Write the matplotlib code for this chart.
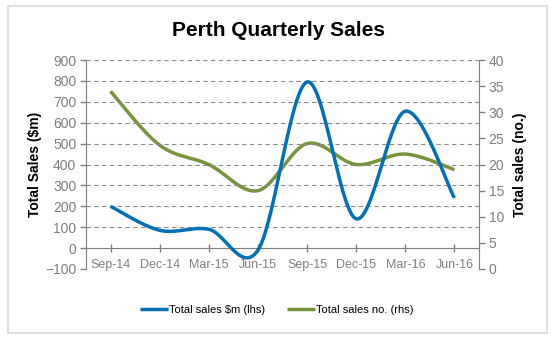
import numpy as np
import matplotlib.pyplot as plt
from matplotlib.patches import Rectangle

plt.rcParams['font.family'] = ['Liberation Sans', 'DejaVu Sans']

quarters = ['Sep-14', 'Dec-14', 'Mar-15', 'Jun-15', 'Sep-15', 'Dec-15', 'Mar-16', 'Jun-16']
sales_m = [200, 85, 90, -10, 795, 140, 655, 240]      # $m, left axis
sales_no = [34, 23.7, 20, 15, 24, 20, 22, 19]         # no., right axis

blue = '#0070b8'
green = '#77933c'
grey = '#7f7f7f'


def smooth(x, y, n=30):
    # Excel style smoothed line: cardinal bezier through each point
    x = np.asarray(x, float)
    y = np.asarray(y, float)
    px = np.concatenate([[x[0]], x, [x[-1]]])
    py = np.concatenate([[y[0]], y, [y[-1]]])
    xs, ys = [], []
    t = np.linspace(0, 1, n)
    for i in range(1, len(x)):
        p0 = np.array([px[i], py[i]])
        p3 = np.array([px[i + 1], py[i + 1]])
        p1 = p0 + (p3 - np.array([px[i - 1], py[i - 1]])) / 6
        p2 = p3 - (np.array([px[i + 2], py[i + 2]]) - p0) / 6
        b = ((1 - t) ** 3)[:, None] * p0 + (3 * (1 - t) ** 2 * t)[:, None] * p1 \
            + (3 * (1 - t) * t ** 2)[:, None] * p2 + (t ** 3)[:, None] * p3
        xs.append(b[:, 0])
        ys.append(b[:, 1])
    return np.concatenate(xs), np.concatenate(ys)


fig = plt.figure(figsize=(5.56, 3.39), dpi=100)
fig.patches.append(Rectangle((8 / 556, 6 / 339), 539 / 556, 327 / 339, transform=fig.transFigure,
                             fill=False, edgecolor='#d9d9d9', lw=1.2))

ax = fig.add_axes([86 / 556, 70 / 339, 393 / 556, 209 / 339])
ax2 = ax.twinx()

x = np.arange(len(quarters))
ax.set_xlim(-0.5, len(quarters) - 0.5)
ax.set_ylim(-100, 900)
ax2.set_ylim(0, 40)

for v in range(100, 1000, 100):
    ax.axhline(v, color='#8c8c8c', lw=0.8, ls=(0, (4, 3)), zorder=0)

sx, sy = smooth(x, sales_m)
l1, = ax.plot(sx, sy, color=blue, lw=2.5, solid_capstyle='butt', label='Total sales $m (lhs)', zorder=3)
gx, gy = smooth(x, sales_no)
l2, = ax2.plot(gx, gy, color=green, lw=2.5, solid_capstyle='butt', label='Total sales no. (rhs)', zorder=3)
ax2.set_zorder(ax.get_zorder() - 1)
ax.patch.set_visible(False)

ax.set_yticks(range(-100, 1000, 100))
ax2.set_yticks(range(0, 45, 5))
ax.set_xticks(x)
ax.set_xticklabels(quarters)

for a in (ax, ax2):
    for s in a.spines.values():
        s.set_visible(False)
    a.tick_params(colors=grey, labelsize=10, length=4, width=1, pad=3)
ax.spines['left'].set_visible(True)
ax.spines['left'].set_color(grey)
ax2.spines['right'].set_visible(True)
ax2.spines['right'].set_color(grey)

# category axis crosses at zero
ax.spines['bottom'].set_position(('data', 0))
ax.spines['bottom'].set_visible(True)
ax.spines['bottom'].set_color(grey)
ax.tick_params(axis='x', direction='inout', length=6, pad=5, labelsize=9)

ax.set_ylabel('Total Sales ($m)', fontsize=10, fontweight='bold', labelpad=2)
ax2.set_ylabel('Total sales (no.)', fontsize=10, fontweight='bold', labelpad=6)

fig.text(278 / 556, 1 - 31 / 339, 'Perth Quarterly Sales', ha='center', va='center',
         fontsize=15, fontweight='bold')

fig.legend(handles=[l1, l2], loc='center', bbox_to_anchor=(277 / 556, 1 - 310 / 339), ncol=2,
           frameon=False, fontsize=8, handlelength=2.5, handletextpad=0.1, columnspacing=2)

fig.savefig('out.png', dpi=100)
